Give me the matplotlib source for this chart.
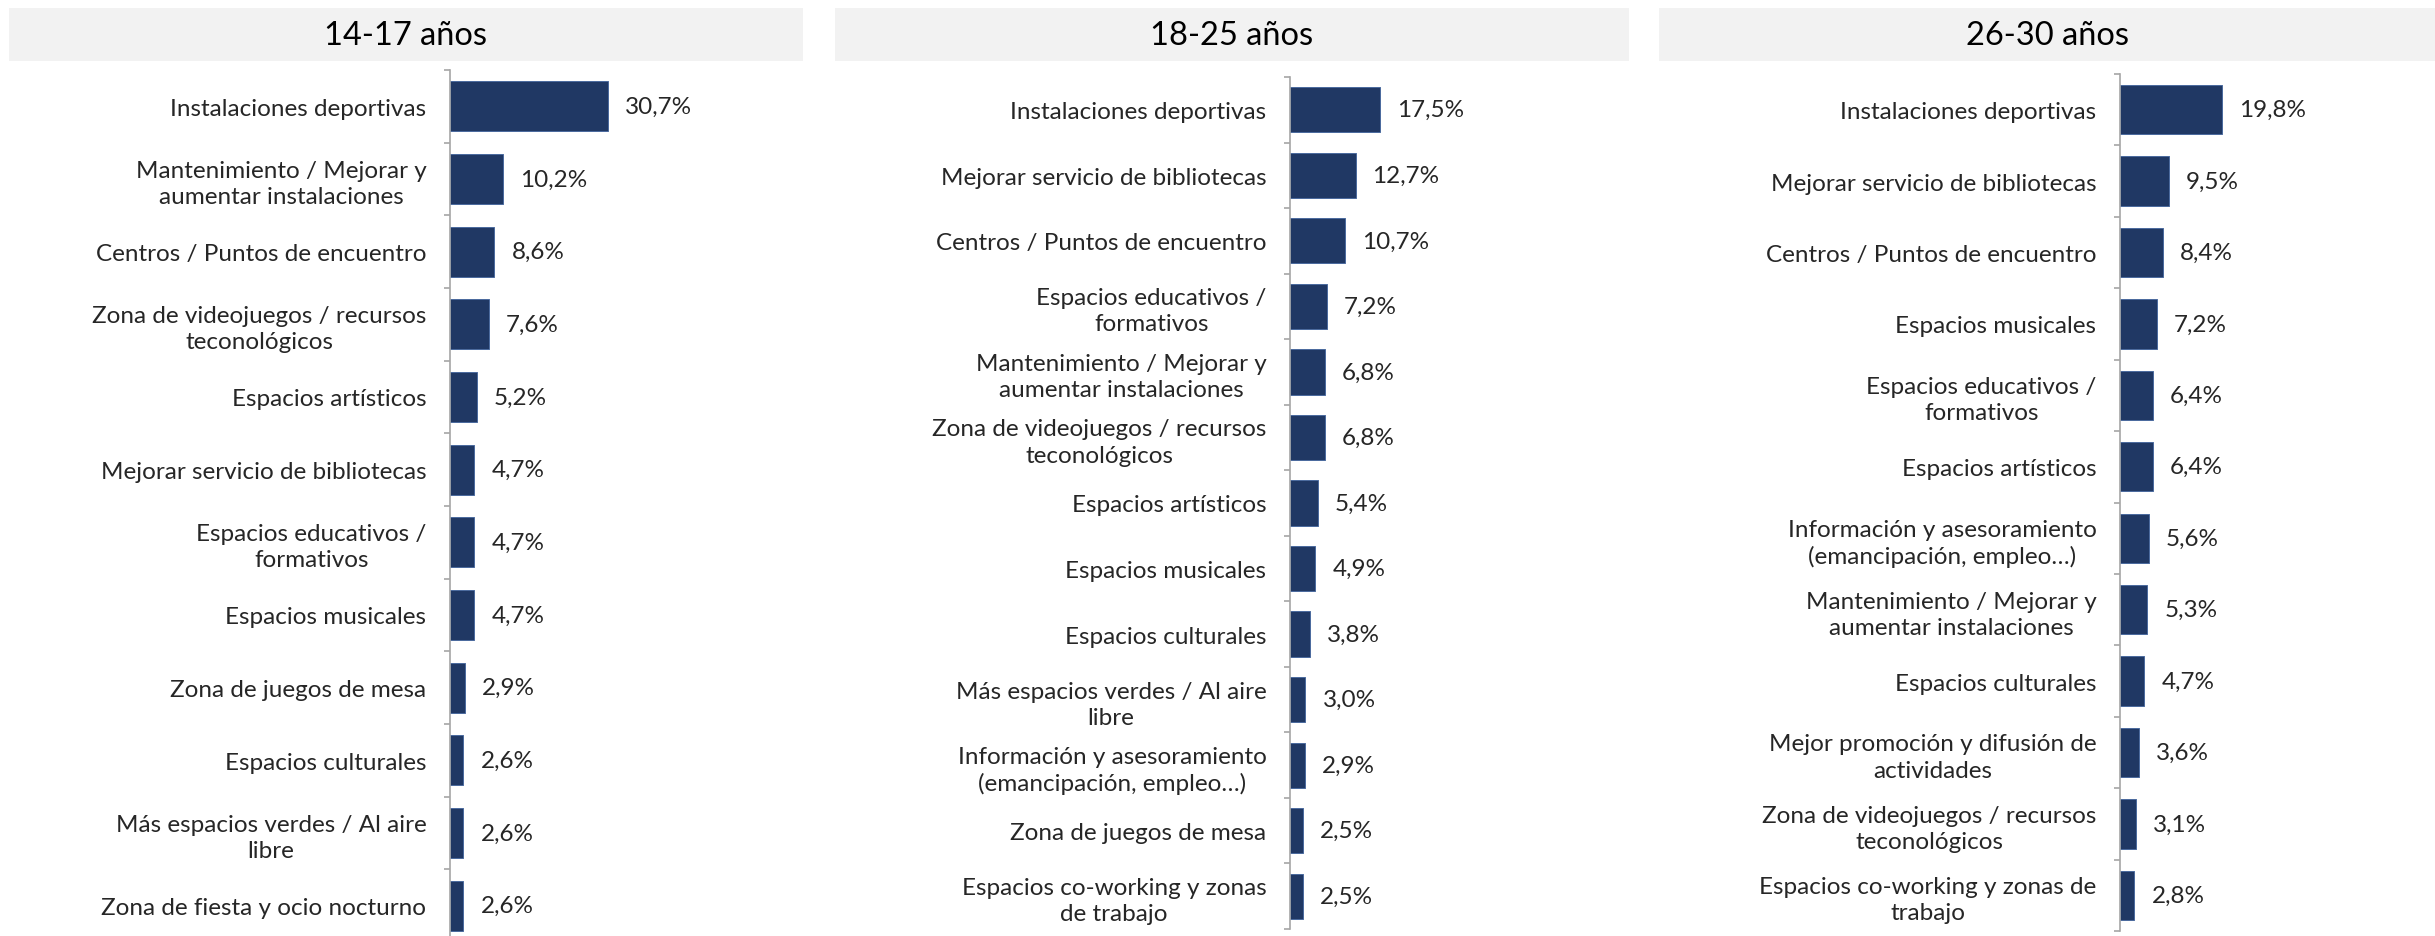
import matplotlib
matplotlib.use("Agg")
import matplotlib.pyplot as plt
from matplotlib.patches import Rectangle

plt.rcParams['font.family'] = ['Lato', 'DejaVu Sans']

titles = ["14-17 años", "18-25 años", "26-30 años"]

# 14-17 años
labels_1417 = [
    "Instalaciones deportivas",
    "Mantenimiento / Mejorar y\naumentar instalaciones",
    "Centros / Puntos de encuentro",
    "Zona de videojuegos / recursos\nteconológicos",
    "Espacios artísticos",
    "Mejorar servicio de bibliotecas",
    "Espacios educativos /\nformativos",
    "Espacios musicales",
    "Zona de juegos de mesa",
    "Espacios culturales",
    "Más espacios verdes / Al aire\nlibre",
    "Zona de fiesta y ocio nocturno",
]
values_1417 = [30.7, 10.2, 8.6, 7.6, 5.2, 4.7, 4.7, 4.7, 2.9, 2.6, 2.6, 2.6]

# 18-25 años
labels_1825 = [
    "Instalaciones deportivas",
    "Mejorar servicio de bibliotecas",
    "Centros / Puntos de encuentro",
    "Espacios educativos /\nformativos",
    "Mantenimiento / Mejorar y\naumentar instalaciones",
    "Zona de videojuegos / recursos\nteconológicos",
    "Espacios artísticos",
    "Espacios musicales",
    "Espacios culturales",
    "Más espacios verdes / Al aire\nlibre",
    "Información y asesoramiento\n(emancipación, empleo…)",
    "Zona de juegos de mesa",
    "Espacios co-working y zonas\nde trabajo",
]
values_1825 = [17.5, 12.7, 10.7, 7.2, 6.8, 6.8, 5.4, 4.9, 3.8, 3.0, 2.9, 2.5, 2.5]

# 26-30 años
labels_2630 = [
    "Instalaciones deportivas",
    "Mejorar servicio de bibliotecas",
    "Centros / Puntos de encuentro",
    "Espacios musicales",
    "Espacios educativos /\nformativos",
    "Espacios artísticos",
    "Información y asesoramiento\n(emancipación, empleo…)",
    "Mantenimiento / Mejorar y\naumentar instalaciones",
    "Espacios culturales",
    "Mejor promoción y difusión de\nactividades",
    "Zona de videojuegos / recursos\nteconológicos",
    "Espacios co-working y zonas de\ntrabajo",
]
values_2630 = [19.8, 9.5, 8.4, 7.2, 6.4, 6.4, 5.6, 5.3, 4.7, 3.6, 3.1, 2.8]

W, H = 2435, 937
bar_color = '#203864'
text_color = '#262626'
px_per_pct = 5.16

fig = plt.figure(figsize=(W / 100, H / 100), dpi=100)

# (axis x, axes width, top, bottom, title box left, title box right) in pixels
layout = [
    (450, 340, 71, 943, 9, 803),
    (1290, 330, 78, 930, 835, 1629),
    (2120, 300, 75, 932, 1659, 2435),
]
panels = [(labels_1417, values_1417), (labels_1825, values_1825), (labels_2630, values_2630)]

for (x0, w, top, bot, bx0, bx1), (labs, vals), title in zip(layout, panels, titles):
    # grey title band
    fig.patches.append(Rectangle((bx0 / W, 1 - 62 / H), (bx1 - bx0) / W, 53 / H,
                                 transform=fig.transFigure, facecolor='#f2f2f2',
                                 edgecolor='none', zorder=0))
    fig.text((bx0 + bx1) / 2 / W, 1 - 36 / H, title, ha='center', va='center',
             fontsize=23.5, color='black')

    ax = fig.add_axes([x0 / W, 1 - bot / H, w / W, (bot - top) / H])
    n = len(vals)
    y = list(range(n))
    ax.barh(y, vals, height=0.69, color=bar_color, edgecolor='#4a6a9e', linewidth=0.7)
    ax.set_xlim(0, w / px_per_pct)
    ax.set_ylim(n - 0.5, -0.5)

    ax.set_yticks(y)
    ax.set_yticklabels(labs, fontsize=17.5, color=text_color)
    for t in ax.get_yticklabels():
        t.set_multialignment('center')
        t.set_linespacing(1.3)
    ax.tick_params(axis='y', which='major', length=0, pad=17)
    ax.set_yticks([i - 0.5 for i in range(n + 1)], minor=True)
    ax.tick_params(axis='y', which='minor', length=4, width=1.2, color='#a6a6a6')
    ax.set_xticks([])

    for s in ['top', 'right', 'bottom']:
        ax.spines[s].set_visible(False)
    ax.spines['left'].set_color('#a6a6a6')
    ax.spines['left'].set_linewidth(1.2)

    for yi, v in zip(y, vals):
        ax.annotate(f"{v:.1f}".replace('.', ',') + '%', xy=(v, yi), xytext=(17, 0),
                    textcoords='offset pixels', va='center', ha='left',
                    fontsize=17.5, color=text_color)

fig.savefig('out.png', dpi=100, facecolor='white')
